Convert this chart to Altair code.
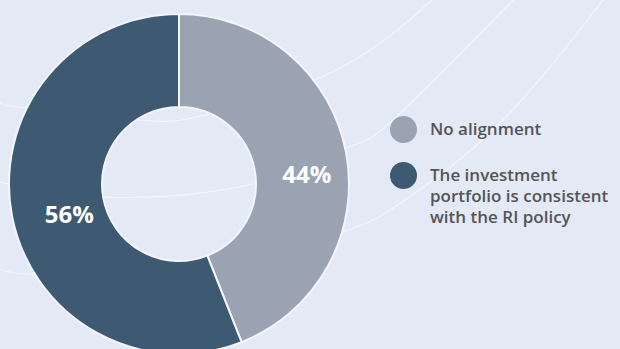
import altair as alt
import pandas as pd

# ---- data ----
categories = ["No alignment", "The investment portfolio is consistent with the RI policy"]
legend_labels = ["No alignment", "The investment\nportfolio is consistent\nwith the RI policy"]
values = [44, 56]
pct_labels = ["44%", "56%"]
colors = ["#9aa3b1", "#3d5a72"]

# decorative background curves (in pixels)
curve_a_x = [-10, 0, 25, 137, 210, 340, 432, 450]
curve_a_y = [101, 103, 108, 120, 114, 68, 0, -14]
curve_b_x = [-10, 0, 102, 257, 348, 395, 513, 525]
curve_b_y = [180, 182, 197, 183, 147, 118, 0, -13]
curve_c_x = [-10, 0, 33, 180, 340, 405, 503, 603, 615]
curve_c_y = [267, 269, 275, 272, 233, 200, 120, 0, -15]

W, H = 620, 349
CX, CY = 179, 184

df = pd.DataFrame({
    "category": categories,
    "value": values,
    "label": pct_labels,
    "legend": legend_labels,
    "order": [0, 1],
})

rows = []
for name, xs, ys in [("a", curve_a_x, curve_a_y), ("b", curve_b_x, curve_b_y), ("c", curve_c_x, curve_c_y)]:
    for i, (x, y) in enumerate(zip(xs, ys)):
        rows.append({"curve": name, "idx": i, "x": x, "y": y})
curves = pd.DataFrame(rows)

color = alt.Color("category:N", scale=alt.Scale(domain=categories, range=colors), legend=None)

bg = alt.Chart(curves).mark_line(
    interpolate="natural", stroke="#ffffff", strokeWidth=1.1, opacity=0.6
).encode(
    x=alt.X("x:Q", scale=alt.Scale(domain=[0, W], range=[0, W]), axis=None),
    y=alt.Y("y:Q", scale=alt.Scale(domain=[0, H], range=[0, H]), axis=None),
    detail="curve:N",
    order="idx:Q",
)

arc = alt.Chart(df).mark_arc(
    radius=170, radius2=77, stroke="#f3f5fb", strokeWidth=2
).encode(
    theta=alt.Theta("value:Q", stack=True, scale=alt.Scale(domain=[0, 100])),
    order=alt.Order("order:Q"),
    color=color,
    x=alt.value(CX),
    y=alt.value(CY),
)

lab_base = alt.Chart(df).transform_stack(
    stack="value", groupby=[], as_=["v0", "v1"],
    sort=[alt.SortField(field="order", order="ascending")],
).transform_calculate(mid="(datum.v0 + datum.v1) / 2")

def pct_label(i, dx, dy):
    return lab_base.transform_filter(alt.datum.order == i).mark_text(
        radius=125, dx=dx, dy=dy, font="Open Sans", fontWeight="bold", fontSize=24,
        color="#ffffff", align="center", baseline="middle",
    ).encode(
        theta=alt.Theta("mid:Q", scale=alt.Scale(domain=[0, 100])),
        text="label:N",
        x=alt.value(CX),
        y=alt.value(CY),
    )

lab0 = pct_label(0, 5, 15)
lab1 = pct_label(1, 13, 9)

leg_y = alt.Y("category:N", scale=alt.Scale(type="point", padding=0, domain=categories, range=[129.5, 175.5]), axis=None)

leg_dots = alt.Chart(df).mark_circle(size=729, opacity=1).encode(
    x=alt.value(403.5), y=leg_y, color=color
)
leg_text = alt.Chart(df).mark_text(
    align="left", baseline="middle", lineBreak="\n", lineHeight=21,
    font="Open Sans", fontWeight=600, fontSize=17, color="#555555",
).encode(x=alt.value(430), y=leg_y, text="legend:N")

legend = alt.layer(leg_dots, leg_text)

chart = alt.layer(bg, arc, lab0, lab1, legend).resolve_scale(
    y="independent", x="independent"
).properties(
    width=W, height=H, padding=0, autosize=alt.AutoSizeParams(type="none"),
    background="#e4e9f6",
).configure_view(stroke=None)

chart.save("out.html", embed_options={"renderer": "svg", "actions": False})
